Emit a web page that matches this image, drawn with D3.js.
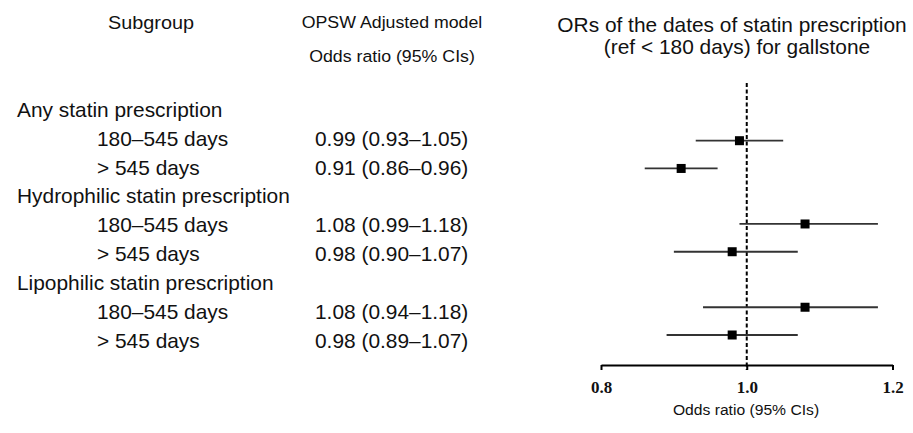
<!DOCTYPE html>
<meta charset="utf-8">
<head>
  <script src="https://d3js.org/d3.v7.min.js"></script>
  <style>
    body { margin: 0; background: white; }
    text { font-family: "Liberation Sans", Arial, sans-serif; fill: #111; }
  </style>
</head>
<body>
  <div id="chart"></div>
  <script>
    // rows of the table, top to bottom
    var rowLabels = [
      "Any statin prescription", "180\u2013545 days", "> 545 days",
      "Hydrophilic statin prescription", "180\u2013545 days", "> 545 days",
      "Lipophilic statin prescription", "180\u2013545 days", "> 545 days"
    ];
    var isGroup = [true, false, false, true, false, false, true, false, false];
    var estRows = [1, 2, 4, 5, 7, 8];
    var or = [0.99, 0.91, 1.08, 0.98, 1.08, 0.98];
    var lower = [0.93, 0.86, 0.99, 0.90, 0.94, 0.89];
    var upper = [1.05, 0.96, 1.18, 1.07, 1.18, 1.07];
    var xTicks = [0.8, 1.0, 1.2];

    var width = 913, height = 433;
    var stretch = 1.045; // the original text is a bit wider than Arial

    var svg = d3.select("#chart")
      .append("svg")
      .attr("width", width)
      .attr("height", height);

    // baseline of each text row
    var rowY = d3.scaleLinear().domain([0, 8]).range([117, 347.5]);
    // centre of each plotted row
    var markY = d3.scaleLinear().domain([1, 8]).range([140.7, 335]);
    var x = d3.scaleLinear().domain([0.8, 1.2]).range([601, 892.5]);

    var fmt = d3.format(".2f");

    function label(px, py, size, anchor, str) {
      return svg.append("text")
        .attr("transform", "translate(" + px + "," + py + ") scale(" + stretch + ",1)")
        .attr("text-anchor", anchor)
        .style("font-size", size + "px")
        .text(str);
    }

    // headers
    label(151, 29, 19, "middle", "Subgroup");
    label(392, 28, 17, "middle", "OPSW Adjusted model");
    label(392, 62, 17, "middle", "Odds ratio (95% CIs)");
    label(732, 32, 20, "middle", "ORs of the dates of statin prescription");
    label(737, 54, 20, "middle", "(ref < 180 days) for gallstone");

    // row labels
    svg.append("g").selectAll("text")
      .data(rowLabels)
      .enter()
      .append("text")
      .attr("transform", function (d, i) {
        return "translate(" + (isGroup[i] ? 17 : 97) + "," + rowY(i) + ") scale(" + stretch + ",1)";
      })
      .style("font-size", "20px")
      .text(function (d) { return d; });

    // OR (CI) text
    svg.append("g").selectAll("text")
      .data(or)
      .enter()
      .append("text")
      .attr("transform", function (d, i) {
        return "translate(315," + rowY(estRows[i]) + ") scale(" + stretch + ",1)";
      })
      .style("font-size", "20px")
      .text(function (d, i) { return fmt(d) + " (" + fmt(lower[i]) + "\u2013" + fmt(upper[i]) + ")"; });

    // reference line
    svg.append("line")
      .attr("x1", x(1)).attr("x2", x(1))
      .attr("y1", 83).attr("y2", 370)
      .attr("stroke", "black")
      .attr("stroke-width", 2)
      .attr("stroke-dasharray", "4,2.5");

    // x axis
    var axis = svg.append("g")
      .attr("transform", "translate(0,365)")
      .call(d3.axisBottom(x).tickValues(xTicks).tickSize(5).tickSizeOuter(0).tickFormat(d3.format(".1f")));
    axis.select(".domain").attr("stroke", "black").attr("stroke-width", 2);
    axis.selectAll(".tick line").attr("stroke", "black").attr("stroke-width", 2);
    axis.selectAll(".tick text")
      .attr("y", 28)
      .attr("dy", null)
      .style("font-family", "'Liberation Serif', 'Times New Roman', serif")
      .style("font-weight", "bold")
      .style("font-size", "17px")
      .style("fill", "#111");

    label(746, 415, 15, "middle", "Odds ratio (95% CIs)");

    // CI lines
    svg.append("g").selectAll("line")
      .data(or)
      .enter()
      .append("line")
      .attr("x1", function (d, i) { return x(lower[i]); })
      .attr("x2", function (d, i) { return x(upper[i]); })
      .attr("y1", function (d, i) { return markY(estRows[i]); })
      .attr("y2", function (d, i) { return markY(estRows[i]); })
      .attr("stroke", "#333")
      .attr("stroke-width", 1.8);

    // point estimates
    var s = 9;
    svg.append("g").selectAll("rect")
      .data(or)
      .enter()
      .append("rect")
      .attr("x", function (d) { return x(d) - s / 2; })
      .attr("y", function (d, i) { return markY(estRows[i]) - s / 2; })
      .attr("width", s)
      .attr("height", s)
      .attr("fill", "black");
  </script>
</body>
</html>
